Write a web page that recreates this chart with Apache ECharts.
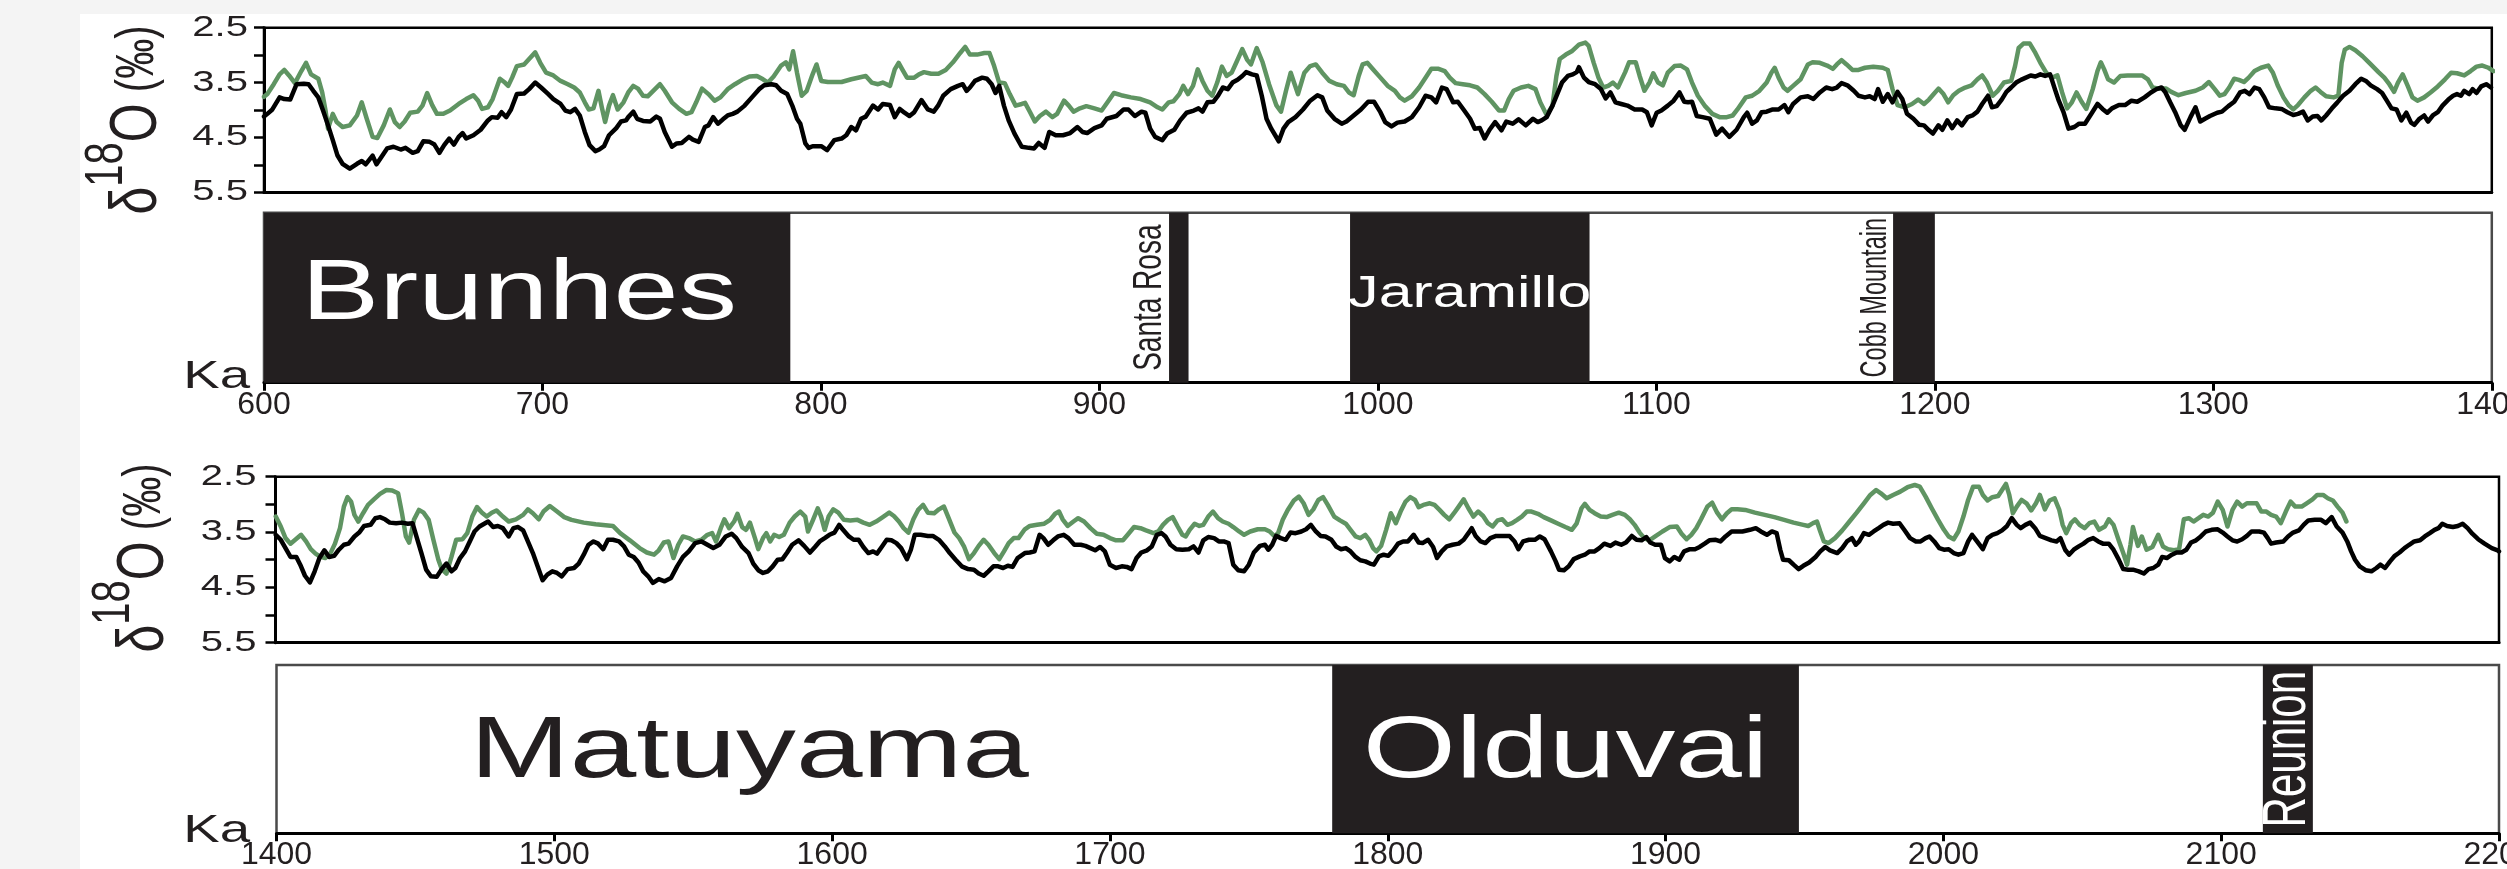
<!DOCTYPE html>
<html>
<head>
<meta charset="utf-8">
<title>δ18O records and geomagnetic polarity, 600–2200 ka</title>
<script src="https://cdn.jsdelivr.net/npm/echarts@6/dist/echarts.min.js"></script>
<style>
  html, body { margin: 0; padding: 0; background: #f4f4f4; }
  #paper { position: absolute; left: 80px; top: 14px; right: 0; bottom: 0; background: #ffffff; }
  #chart { position: absolute; left: 0; top: 0; width: 2507px; height: 869px; }
</style>
</head>
<body>
<div id="paper"></div>
<div id="chart"></div>
<script>
// ---------------------------------------------------------------
// δ18O records, [age (ka), δ18O (‰)]
// ---------------------------------------------------------------
const blackUpper = [[600.0,4.12],[601.2,4.07],[603.0,3.99],[605.6,3.77],[607.3,3.80],[609.4,3.81],[611.7,3.53],[614.3,3.52],[616.0,3.53],[617.7,3.65],[619.5,3.77],[621.2,4.01],[623.0,4.28],[624.7,4.55],[626.4,4.83],[628.2,4.98],[630.8,5.07],[633.4,4.98],[635.1,4.93],[636.5,4.99],[639.0,4.83],[640.4,4.99],[642.1,4.86],[644.2,4.70],[646.5,4.67],[649.1,4.72],[650.8,4.69],[653.4,4.78],[655.2,4.75],[657.2,4.57],[659.5,4.58],[661.2,4.63],[663.0,4.78],[664.7,4.64],[666.5,4.52],[668.2,4.63],[669.9,4.49],[671.3,4.42],[672.6,4.52],[675.2,4.46],[677.8,4.36],[680.4,4.19],[681.8,4.13],[683.9,4.14],[685.3,4.04],[687.0,4.13],[688.7,3.99],[690.8,3.71],[693.4,3.70],[695.2,3.62],[697.4,3.50],[699.5,3.59],[702.1,3.71],[703.9,3.80],[706.5,3.89],[708.2,4.01],[710.0,4.04],[711.7,3.98],[713.4,4.10],[715.2,4.40],[716.9,4.64],[719.0,4.75],[720.4,4.72],[722.1,4.66],[723.9,4.46],[726.5,4.33],[728.2,4.21],[730.0,4.19],[730.8,4.13],[732.6,4.03],[734.0,4.16],[736.1,4.20],[738.7,4.21],[740.9,4.12],[742.2,4.16],[743.9,4.40],[746.5,4.67],[748.2,4.61],[750.0,4.60],[752.6,4.49],[754.0,4.54],[756.1,4.58],[758.3,4.31],[759.6,4.28],[761.3,4.13],[763.0,4.25],[764.8,4.17],[766.5,4.10],[768.3,4.07],[770.0,4.03],[772.6,3.92],[775.2,3.77],[777.8,3.62],[779.6,3.55],[782.2,3.53],[783.9,3.55],[785.7,3.65],[787.9,3.71],[789.7,3.92],[791.4,4.16],[792.6,4.25],[794.4,4.61],[795.6,4.69],[797.0,4.66],[800.1,4.66],[802.2,4.73],[804.8,4.55],[807.4,4.52],[809.1,4.46],[810.9,4.31],[812.6,4.37],[814.4,4.16],[816.1,4.12],[818.7,3.92],[820.5,3.99],[822.2,3.89],[824.8,3.91],[826.5,4.13],[828.3,3.98],[830.0,4.05],[831.8,4.11],[833.5,4.04],[836.1,3.82],[838.4,3.99],[840.5,4.03],[842.2,3.91],[843.9,3.74],[846.6,3.62],[849.2,3.56],[850.9,3.53],[852.3,3.65],[853.5,3.59],[855.3,3.47],[857.9,3.41],[859.6,3.43],[861.3,3.53],[862.7,3.69],[864.0,3.56],[865.7,3.92],[867.4,4.19],[869.5,4.43],[872.1,4.67],[874.7,4.69],[876.5,4.70],[878.2,4.60],[880.3,4.69],[882.0,4.40],[884.3,4.46],[886.9,4.46],[889.5,4.42],[892.1,4.31],[893.9,4.40],[895.6,4.42],[898.2,4.33],[900.8,4.28],[902.6,4.16],[906.1,4.11],[908.7,3.99],[910.4,3.99],[912.7,4.11],[915.1,4.03],[916.5,4.05],[918.2,4.34],[920.0,4.49],[922.6,4.55],[924.3,4.43],[926.9,4.36],[929.0,4.19],[931.3,4.05],[933.9,4.01],[935.6,3.97],[937.0,4.03],[938.8,3.86],[940.9,3.85],[942.6,3.74],[944.3,3.59],[946.1,3.62],[947.8,3.50],[949.6,3.45],[951.3,3.38],[952.7,3.31],[954.8,3.35],[956.5,3.37],[958.3,3.74],[960.0,4.16],[961.7,4.34],[964.4,4.57],[966.1,4.34],[967.8,4.22],[970.4,4.13],[973.1,3.99],[975.7,3.83],[978.3,3.73],[980.0,3.77],[981.8,4.01],[984.4,4.16],[987.0,4.25],[988.7,4.21],[991.3,4.10],[993.9,3.99],[996.5,3.85],[998.6,3.85],[1000.9,4.04],[1002.6,4.22],[1004.9,4.30],[1007.0,4.23],[1009.6,4.21],[1012.2,4.13],[1014.8,3.95],[1017.1,3.74],[1019.2,3.77],[1020.9,3.86],[1023.0,3.59],[1024.7,3.62],[1027.0,3.86],[1028.7,3.85],[1031.0,4.01],[1033.1,4.16],[1034.8,4.34],[1036.6,4.33],[1038.3,4.52],[1040.1,4.36],[1042.1,4.22],[1044.4,4.37],[1046.1,4.21],[1048.4,4.25],[1050.5,4.17],[1053.1,4.28],[1055.7,4.16],[1057.4,4.22],[1058.8,4.19],[1060.6,4.13],[1062.7,3.92],[1064.4,3.71],[1066.1,3.50],[1068.2,3.38],[1070.0,3.35],[1071.4,3.31],[1072.2,3.22],[1074.0,3.41],[1075.7,3.49],[1078.0,3.53],[1080.1,3.62],[1081.8,3.79],[1083.5,3.68],[1085.3,3.86],[1087.4,3.89],[1089.6,3.92],[1092.2,3.99],[1094.9,3.99],[1096.6,4.04],[1098.3,4.28],[1100.1,4.05],[1101.8,4.01],[1104.1,3.92],[1106.2,3.83],[1108.3,3.68],[1110.0,3.85],[1111.4,3.86],[1112.8,3.85],[1114.5,4.11],[1116.6,4.13],[1119.2,4.16],[1121.5,4.45],[1123.6,4.34],[1126.2,4.49],[1128.8,4.36],[1131.4,4.13],[1132.6,4.05],[1134.4,4.25],[1136.1,4.19],[1137.8,4.04],[1139.6,4.03],[1141.8,3.99],[1143.9,3.99],[1146.0,3.91],[1147.4,4.04],[1149.1,3.89],[1151.8,3.77],[1154.4,3.75],[1156.4,3.80],[1158.7,3.68],[1161.0,3.59],[1163.1,3.62],[1164.8,3.59],[1166.5,3.51],[1168.6,3.55],[1170.9,3.65],[1172.6,3.74],[1174.9,3.77],[1176.6,3.75],[1178.4,3.80],[1179.6,3.62],[1181.3,3.85],[1183.1,3.71],[1184.8,3.86],[1186.6,3.67],[1188.3,3.80],[1190.0,4.07],[1192.3,4.16],[1194.4,4.27],[1196.1,4.28],[1197.9,4.37],[1199.3,4.43],[1201.3,4.28],[1202.7,4.36],[1204.5,4.19],[1206.2,4.33],[1208.0,4.19],[1209.7,4.28],[1211.8,4.13],[1213.5,4.10],[1215.3,4.03],[1217.0,3.89],[1219.1,3.74],[1220.5,3.95],[1222.2,3.93],[1224.0,3.81],[1225.7,3.67],[1227.4,3.59],[1229.2,3.50],[1230.9,3.45],[1232.7,3.41],[1234.4,3.37],[1236.1,3.39],[1237.9,3.35],[1239.6,3.38],[1241.4,3.35],[1243.1,3.62],[1244.5,3.83],[1246.2,4.04],[1248.0,4.34],[1250.1,4.31],[1251.8,4.25],[1253.9,4.25],[1256.2,4.07],[1258.4,3.89],[1260.2,3.98],[1261.9,4.05],[1263.6,3.97],[1266.1,3.91],[1268.3,3.91],[1270.6,3.83],[1272.7,3.85],[1275.3,3.77],[1277.6,3.68],[1279.6,3.62],[1281.4,3.59],[1282.8,3.68],[1284.5,3.86],[1286.3,4.04],[1288.3,4.28],[1289.7,4.36],[1291.8,4.13],[1293.6,3.95],[1295.3,4.21],[1297.0,4.16],[1298.8,4.11],[1301.4,4.05],[1303.1,4.03],[1305.4,3.93],[1307.5,3.85],[1309.6,3.68],[1311.3,3.65],[1313.0,3.71],[1314.8,3.59],[1316.5,3.62],[1318.3,3.77],[1320.0,3.95],[1322.3,3.97],[1324.5,3.98],[1326.6,4.04],[1328.7,4.09],[1330.4,4.07],[1332.2,4.03],[1333.9,4.19],[1335.7,4.12],[1337.4,4.11],[1338.8,4.19],[1340.5,4.10],[1342.6,3.97],[1344.4,3.87],[1346.6,3.74],[1348.9,3.65],[1351.0,3.53],[1353.1,3.43],[1354.8,3.47],[1356.5,3.55],[1358.8,3.62],[1360.6,3.69],[1362.3,3.83],[1364.0,3.97],[1365.8,3.99],[1367.5,4.19],[1369.3,4.05],[1371.0,4.23],[1372.2,4.27],[1374.0,4.16],[1375.7,4.10],[1377.1,4.21],[1378.8,4.10],[1380.6,4.04],[1382.3,3.92],[1384.4,3.81],[1386.1,3.74],[1387.5,3.71],[1388.9,3.74],[1390.1,3.65],[1391.9,3.71],[1393.1,3.62],[1394.5,3.69],[1396.2,3.57],[1398.0,3.53],[1399.7,3.59]];

const greenUpper = [[600.0,3.76],[601.2,3.71],[603.5,3.53],[605.6,3.35],[607.3,3.27],[609.0,3.37],[611.1,3.51],[613.4,3.29],[615.1,3.14],[616.9,3.35],[619.5,3.43],[620.9,3.68],[622.1,4.01],[623.0,4.34],[624.7,4.07],[626.1,4.22],[628.2,4.31],[630.8,4.28],[633.4,4.10],[635.1,3.86],[636.9,4.16],[639.0,4.49],[640.7,4.51],[643.0,4.28],[645.2,3.99],[647.0,4.22],[648.7,4.31],[650.5,4.21],[652.5,4.05],[655.2,4.03],[656.9,3.92],[658.6,3.69],[660.4,3.91],[662.1,4.07],[664.4,4.07],[666.8,4.01],[669.9,3.89],[672.6,3.80],[675.2,3.73],[676.9,3.83],[678.3,3.98],[680.4,3.95],[682.1,3.80],[684.7,3.43],[686.5,3.50],[687.7,3.56],[689.1,3.41],[690.8,3.20],[693.4,3.17],[695.2,3.07],[697.4,2.95],[699.2,3.14],[701.3,3.32],[703.9,3.37],[706.5,3.47],[709.1,3.53],[711.4,3.59],[713.4,3.68],[715.2,3.86],[716.6,3.99],[718.3,3.97],[720.1,3.65],[721.3,3.95],[722.5,4.22],[723.9,3.92],[725.3,3.73],[727.0,3.99],[729.1,3.86],[730.8,3.68],[732.6,3.56],[734.3,3.61],[736.1,3.74],[737.8,3.75],[740.4,3.62],[742.2,3.53],[743.9,3.65],[746.5,3.86],[749.1,3.98],[751.7,4.07],[753.5,4.04],[755.2,3.86],[757.3,3.61],[759.6,3.71],[761.8,3.83],[763.9,3.77],[766.5,3.62],[769.1,3.53],[771.7,3.45],[774.3,3.39],[777.0,3.38],[779.2,3.44],[781.0,3.50],[783.0,3.39],[785.7,3.19],[787.4,3.13],[788.6,3.26],[790.0,2.93],[791.4,3.32],[793.1,3.74],[794.9,3.65],[797.0,3.35],[798.4,3.17],[800.1,3.47],[802.5,3.49],[807.4,3.49],[810.9,3.44],[816.1,3.38],[818.2,3.50],[820.5,3.53],[822.2,3.50],[824.8,3.56],[826.5,3.26],[827.9,3.14],[829.2,3.26],[830.9,3.41],[833.5,3.41],[835.2,3.35],[837.0,3.31],[839.6,3.34],[842.2,3.34],[844.8,3.27],[847.4,3.13],[850.0,2.96],[851.8,2.85],[853.5,2.99],[856.1,2.99],[858.7,2.96],[860.5,2.96],[862.2,3.20],[864.0,3.50],[866.0,3.51],[867.8,3.71],[869.9,3.92],[872.1,3.89],[873.3,3.87],[875.1,4.04],[876.8,4.21],[878.6,4.11],[880.8,4.03],[883.1,4.13],[884.8,4.07],[887.3,3.83],[889.0,3.92],[890.7,4.03],[893.0,3.97],[895.3,3.93],[898.2,3.97],[900.8,4.01],[902.9,3.86],[905.2,3.69],[907.8,3.73],[911.3,3.77],[914.8,3.80],[918.2,3.86],[920.9,3.95],[922.6,3.99],[924.9,3.86],[926.6,3.84],[928.7,3.71],[930.1,3.56],[931.8,3.71],[933.6,3.56],[935.3,3.26],[937.0,3.47],[938.8,3.65],[940.5,3.74],[942.3,3.50],[944.0,3.21],[945.7,3.38],[947.5,3.32],[949.2,3.13],[951.3,2.89],[953.0,3.08],[954.4,3.17],[956.5,2.87],[958.6,3.13],[960.9,3.53],[963.5,3.91],[965.2,4.03],[967.0,3.65],[968.7,3.32],[970.1,3.53],[971.3,3.71],[973.6,3.32],[975.7,3.20],[977.7,3.17],[980.0,3.32],[982.6,3.47],[985.2,3.53],[987.8,3.56],[989.6,3.68],[991.3,3.73],[993.1,3.38],[994.5,3.17],[996.2,3.14],[998.3,3.26],[1000.9,3.41],[1003.5,3.56],[1006.1,3.65],[1007.9,3.77],[1009.6,3.83],[1012.2,3.75],[1014.8,3.59],[1017.4,3.39],[1019.2,3.25],[1021.8,3.25],[1024.0,3.29],[1025.8,3.41],[1027.9,3.51],[1030.5,3.53],[1033.1,3.55],[1035.7,3.59],[1038.3,3.71],[1040.9,3.85],[1043.5,4.01],[1045.3,4.01],[1047.0,3.80],[1048.7,3.65],[1051.4,3.59],[1054.0,3.56],[1056.6,3.62],[1058.3,3.86],[1060.6,4.09],[1062.7,3.92],[1064.1,3.38],[1065.3,3.07],[1067.5,2.99],[1069.6,2.93],[1072.2,2.81],[1074.5,2.77],[1075.7,2.83],[1077.5,3.14],[1079.2,3.41],[1080.9,3.59],[1082.7,3.56],[1084.4,3.50],[1086.2,3.59],[1088.8,3.31],[1090.2,3.13],[1092.6,3.13],[1094.0,3.38],[1095.7,3.65],[1097.5,3.50],[1098.9,3.33],[1100.6,3.50],[1102.3,3.55],[1104.1,3.32],[1106.5,3.20],[1108.8,3.19],[1111.0,3.26],[1112.8,3.50],[1114.9,3.74],[1117.5,3.93],[1120.1,4.07],[1122.7,4.13],[1125.3,4.13],[1127.4,4.10],[1129.1,3.99],[1132.1,3.77],[1134.4,3.74],[1137.0,3.65],[1139.6,3.50],[1141.3,3.32],[1142.5,3.23],[1143.9,3.41],[1145.7,3.59],[1147.1,3.65],[1149.1,3.56],[1151.8,3.44],[1154.4,3.17],[1156.1,3.13],[1158.7,3.14],[1161.3,3.19],[1163.4,3.25],[1164.8,3.17],[1166.5,3.09],[1168.3,3.17],[1170.4,3.27],[1172.6,3.27],[1174.9,3.23],[1177.9,3.21],[1181.3,3.23],[1183.1,3.27],[1184.8,3.62],[1186.6,3.91],[1189.2,3.95],[1191.8,3.89],[1194.0,3.81],[1196.1,3.89],[1197.9,3.81],[1199.6,3.71],[1201.3,3.61],[1203.1,3.71],[1204.8,3.86],[1206.6,3.73],[1208.6,3.65],[1210.9,3.59],[1213.2,3.55],[1215.3,3.44],[1217.0,3.37],[1218.7,3.50],[1220.8,3.74],[1222.6,3.65],[1224.8,3.50],[1227.4,3.47],[1228.8,3.20],[1230.1,2.87],[1231.8,2.79],[1234.1,2.79],[1236.1,2.96],[1237.9,3.14],[1240.0,3.32],[1242.2,3.41],[1244.0,3.37],[1245.7,3.68],[1247.5,3.97],[1249.2,3.86],[1250.9,3.68],[1252.7,3.85],[1254.4,3.98],[1256.7,3.62],[1258.4,3.29],[1259.6,3.13],[1260.8,3.26],[1262.2,3.44],[1264.3,3.50],[1266.6,3.38],[1269.2,3.37],[1274.4,3.37],[1276.5,3.44],[1278.2,3.59],[1280.5,3.61],[1283.1,3.61],[1284.9,3.67],[1287.5,3.73],[1290.1,3.69],[1293.6,3.65],[1296.2,3.59],[1298.4,3.49],[1300.5,3.62],[1302.3,3.74],[1304.0,3.71],[1305.7,3.59],[1307.5,3.43],[1309.2,3.45],[1311.0,3.49],[1312.7,3.41],[1314.8,3.29],[1317.1,3.23],[1319.7,3.19],[1321.4,3.32],[1323.1,3.55],[1325.2,3.77],[1327.0,3.91],[1328.7,3.99],[1330.4,3.91],[1332.7,3.77],[1335.0,3.65],[1336.7,3.59],[1338.5,3.67],[1340.5,3.75],[1343.2,3.77],[1344.9,3.74],[1346.1,3.14],[1347.2,2.90],[1348.9,2.85],[1351.0,2.91],[1353.6,3.02],[1356.2,3.15],[1359.3,3.31],[1361.4,3.41],[1363.2,3.53],[1364.9,3.67],[1366.3,3.50],[1368.0,3.35],[1369.8,3.56],[1371.5,3.77],[1373.3,3.83],[1375.7,3.77],[1378.0,3.68],[1380.6,3.57],[1383.2,3.44],[1385.4,3.32],[1387.5,3.33],[1390.1,3.37],[1392.4,3.29],[1394.5,3.21],[1396.6,3.19],[1398.8,3.23],[1400.6,3.29]];

const blackLower = [[1400.1,3.55],[1401.9,3.64],[1403.6,3.79],[1405.4,3.95],[1407.5,3.95],[1408.9,4.09],[1410.6,4.29],[1412.4,4.41],[1414.1,4.21],[1415.8,3.97],[1417.6,3.83],[1419.3,3.95],[1421.1,3.93],[1422.8,3.82],[1424.6,3.73],[1426.3,3.71],[1428.4,3.58],[1430.1,3.51],[1431.9,3.39],[1434.2,3.37],[1435.9,3.25],[1437.6,3.23],[1439.4,3.27],[1441.1,3.33],[1443.4,3.34],[1445.5,3.33],[1447.6,3.35],[1449.3,3.34],[1450.7,3.58],[1452.5,3.88],[1454.2,4.18],[1455.9,4.30],[1458.0,4.31],[1459.8,4.17],[1461.5,4.07],[1463.3,4.21],[1464.7,4.15],[1466.4,3.97],[1468.2,3.85],[1469.9,3.67],[1471.6,3.49],[1473.4,3.40],[1475.1,3.35],[1476.5,3.31],[1478.3,3.41],[1480.0,3.39],[1481.8,3.43],[1483.9,3.58],[1485.6,3.43],[1487.3,3.41],[1489.1,3.47],[1490.8,3.67],[1492.6,3.88],[1494.3,4.12],[1496.1,4.37],[1497.8,4.27],[1499.6,4.21],[1501.3,4.24],[1503.0,4.30],[1505.1,4.17],[1507.4,4.15],[1509.1,4.07],[1510.9,3.91],[1512.6,3.73],[1514.4,3.67],[1516.1,3.71],[1517.9,3.81],[1519.6,3.64],[1521.4,3.64],[1523.6,3.67],[1525.4,3.76],[1527.1,3.91],[1528.9,3.95],[1530.6,4.05],[1532.3,4.21],[1534.1,4.30],[1535.8,4.42],[1537.9,4.35],[1540.0,4.39],[1542.3,4.33],[1544.5,4.12],[1546.6,3.95],[1548.7,3.85],[1551.0,3.70],[1553.3,3.67],[1555.4,3.73],[1557.5,3.79],[1559.7,3.73],[1562.0,3.58],[1564.1,3.53],[1565.8,3.61],[1567.9,3.77],[1570.2,3.88],[1571.9,4.07],[1573.7,4.19],[1575.4,4.24],[1577.2,4.21],[1578.9,4.12],[1580.7,4.00],[1582.4,3.99],[1584.1,3.87],[1585.9,3.73],[1588.2,3.65],[1590.2,3.75],[1592.3,3.87],[1594.1,3.77],[1595.8,3.67],[1597.6,3.61],[1599.3,3.55],[1601.1,3.51],[1602.8,3.37],[1604.2,3.46],[1606.3,3.58],[1608.0,3.64],[1609.8,3.64],[1611.5,3.77],[1613.3,3.88],[1615.0,3.85],[1616.4,3.89],[1618.1,3.77],[1619.9,3.64],[1621.6,3.65],[1623.4,3.70],[1625.1,3.79],[1627.2,3.99],[1628.6,3.82],[1630.0,3.55],[1632.1,3.55],[1634.7,3.57],[1636.5,3.57],[1638.7,3.64],[1640.8,3.76],[1642.6,3.88],[1644.7,4.00],[1646.9,4.12],[1649.2,4.17],[1651.3,4.18],[1653.0,4.25],[1654.8,4.29],[1656.5,4.21],[1658.3,4.12],[1660.0,4.12],[1661.8,4.15],[1663.5,4.11],[1665.2,4.13],[1667.0,3.97],[1669.6,3.88],[1671.4,3.87],[1673.1,3.85],[1674.9,3.55],[1676.3,3.61],[1678.0,3.73],[1679.8,3.65],[1681.5,3.58],[1683.6,3.55],[1685.3,3.61],[1687.4,3.73],[1689.7,3.73],[1691.4,3.75],[1693.2,3.79],[1694.9,3.83],[1696.7,3.77],[1698.4,3.85],[1700.2,4.09],[1702.4,4.15],[1704.5,4.12],[1706.3,4.13],[1708.0,4.17],[1709.8,3.97],[1711.5,3.87],[1713.6,3.83],[1715.3,3.76],[1717.1,3.55],[1718.8,3.52],[1720.2,3.58],[1722.0,3.73],[1724.1,3.81],[1726.3,3.82],[1728.6,3.81],[1730.3,3.76],[1732.1,3.87],[1733.8,3.65],[1735.6,3.59],[1737.7,3.61],[1739.4,3.67],[1741.2,3.67],[1742.9,3.70],[1744.6,4.09],[1746.4,4.19],[1748.5,4.21],[1750.2,4.09],[1752.0,3.87],[1754.2,3.75],[1756.0,3.73],[1757.2,3.82],[1758.6,3.73],[1760.0,3.57],[1761.7,3.61],[1763.5,3.64],[1765.2,3.51],[1767.0,3.52],[1769.1,3.49],[1770.8,3.45],[1772.5,3.37],[1774.3,3.49],[1776.0,3.57],[1777.8,3.58],[1779.9,3.64],[1781.6,3.76],[1783.4,3.81],[1785.1,3.79],[1786.8,3.85],[1788.6,3.95],[1790.3,4.01],[1792.1,4.03],[1793.8,4.07],[1795.2,4.09],[1797.0,3.94],[1798.7,3.91],[1800.4,3.93],[1802.2,3.83],[1803.9,3.71],[1805.7,3.67],[1807.4,3.67],[1809.5,3.55],[1811.3,3.69],[1812.7,3.70],[1814.7,3.64],[1816.5,3.77],[1817.9,3.97],[1819.6,3.85],[1821.4,3.76],[1823.5,3.73],[1825.7,3.71],[1827.5,3.64],[1829.2,3.52],[1830.4,3.43],[1831.8,3.57],[1833.6,3.67],[1835.3,3.70],[1837.1,3.61],[1839.2,3.57],[1841.4,3.57],[1844.0,3.57],[1845.8,3.67],[1847.2,3.81],[1848.9,3.67],[1851.0,3.64],[1853.1,3.64],[1854.9,3.58],[1856.6,3.63],[1858.9,3.85],[1860.6,4.03],[1861.8,4.18],[1863.6,4.19],[1865.3,4.12],[1867.1,3.99],[1869.3,3.94],[1871.1,3.91],[1872.8,3.85],[1874.6,3.85],[1876.3,3.79],[1878.1,3.71],[1880.3,3.75],[1882.1,3.69],[1884.2,3.73],[1885.9,3.69],[1888.0,3.57],[1889.7,3.64],[1891.5,3.65],[1893.2,3.59],[1894.6,3.69],[1896.4,3.73],[1898.5,3.73],[1899.9,3.97],[1901.6,4.03],[1903.3,3.95],[1905.1,4.00],[1906.8,3.85],[1908.9,3.81],[1910.7,3.81],[1912.4,3.77],[1914.2,3.71],[1915.9,3.65],[1918.2,3.64],[1919.9,3.67],[1921.7,3.58],[1923.9,3.49],[1925.7,3.49],[1927.8,3.49],[1930.5,3.46],[1932.6,3.43],[1934.4,3.49],[1936.6,3.55],[1938.4,3.49],[1940.1,3.52],[1941.4,3.82],[1942.4,4.00],[1944.5,4.01],[1946.2,4.09],[1948.0,4.17],[1949.7,4.11],[1951.8,4.05],[1954.1,3.95],[1955.8,3.85],[1957.6,3.77],[1959.3,3.83],[1961.9,3.88],[1963.7,3.79],[1965.4,3.67],[1967.2,3.61],[1968.6,3.73],[1969.8,3.67],[1971.5,3.52],[1973.3,3.55],[1975.0,3.49],[1976.8,3.43],[1978.5,3.37],[1980.2,3.33],[1982.0,3.35],[1984.3,3.34],[1986.0,3.46],[1988.1,3.61],[1990.2,3.67],[1991.9,3.67],[1993.7,3.61],[1995.1,3.58],[1996.8,3.67],[1998.6,3.79],[2000.3,3.82],[2002.0,3.81],[2003.8,3.88],[2005.5,3.91],[2007.3,3.88],[2009.0,3.67],[2010.4,3.55],[2012.2,3.67],[2014.3,3.81],[2016.0,3.61],[2017.7,3.55],[2019.5,3.52],[2021.2,3.47],[2023.0,3.39],[2024.7,3.25],[2026.5,3.37],[2027.9,3.43],[2029.6,3.37],[2031.3,3.33],[2033.1,3.43],[2034.8,3.57],[2036.9,3.61],[2039.0,3.65],[2040.8,3.67],[2042.2,3.61],[2043.9,3.82],[2045.3,3.91],[2047.0,3.82],[2048.8,3.76],[2050.5,3.71],[2052.3,3.64],[2054.0,3.61],[2055.8,3.67],[2057.5,3.71],[2059.6,3.71],[2061.3,3.82],[2063.1,3.99],[2064.8,4.17],[2066.6,4.18],[2068.3,4.18],[2070.4,4.21],[2072.2,4.25],[2073.9,4.17],[2075.6,4.15],[2077.4,4.09],[2078.8,3.95],[2080.5,3.97],[2082.3,3.91],[2084.0,3.87],[2085.8,3.87],[2087.5,3.82],[2089.2,3.69],[2091.0,3.65],[2092.7,3.58],[2094.5,3.49],[2096.6,3.46],[2098.8,3.45],[2100.6,3.51],[2102.3,3.58],[2104.1,3.65],[2105.8,3.67],[2107.6,3.63],[2109.3,3.57],[2111.0,3.49],[2113.7,3.49],[2115.4,3.51],[2116.8,3.61],[2118.0,3.71],[2119.8,3.69],[2122.4,3.67],[2124.1,3.58],[2125.9,3.51],[2128.0,3.47],[2129.7,3.37],[2131.4,3.29],[2133.7,3.28],[2136.0,3.28],[2137.7,3.34],[2139.8,3.23],[2141.6,3.40],[2143.7,3.51],[2145.4,3.67],[2146.8,3.85],[2148.2,4.00],[2149.9,4.12],[2152.0,4.19],[2154.1,4.21],[2155.9,4.15],[2157.3,4.09],[2159.0,4.15],[2160.8,4.03],[2162.5,3.93],[2164.2,3.87],[2166.0,3.79],[2167.7,3.73],[2169.5,3.67],[2171.6,3.65],[2173.3,3.58],[2175.1,3.52],[2176.8,3.46],[2178.2,3.43],[2179.6,3.35],[2181.3,3.39],[2183.4,3.41],[2185.2,3.39],[2186.9,3.35],[2188.7,3.43],[2190.4,3.53],[2192.5,3.63],[2194.8,3.71],[2197.4,3.79],[2199.5,3.83],[2200.0,3.85]];

const greenLower = [[1400.1,3.22],[1401.9,3.40],[1403.6,3.61],[1405.4,3.71],[1407.1,3.64],[1409.2,3.55],[1411.0,3.67],[1412.7,3.81],[1414.4,3.89],[1416.2,3.95],[1417.9,3.97],[1419.7,3.89],[1421.4,3.71],[1423.2,3.43],[1424.6,3.04],[1425.9,2.87],[1427.2,2.95],[1428.4,3.19],[1429.8,3.31],[1431.5,3.16],[1433.3,3.01],[1435.4,2.91],[1437.6,2.81],[1439.9,2.74],[1442.0,2.75],[1444.1,2.80],[1445.5,3.16],[1446.9,3.58],[1448.1,3.69],[1449.8,3.28],[1451.6,3.10],[1453.3,3.15],[1455.1,3.28],[1456.8,3.64],[1458.6,4.00],[1459.8,4.17],[1461.5,4.25],[1463.3,3.95],[1465.0,3.64],[1467.3,3.63],[1469.0,3.52],[1470.8,3.22],[1472.5,3.05],[1474.3,3.15],[1476.0,3.22],[1477.8,3.15],[1479.5,3.11],[1481.8,3.22],[1483.9,3.31],[1486.5,3.27],[1489.1,3.19],[1490.8,3.09],[1492.6,3.16],[1494.7,3.27],[1496.4,3.13],[1498.7,3.03],[1501.3,3.13],[1503.9,3.23],[1506.5,3.28],[1510.9,3.33],[1515.2,3.36],[1521.4,3.39],[1524.0,3.52],[1527.5,3.65],[1531.0,3.79],[1533.6,3.87],[1536.2,3.91],[1537.9,3.83],[1539.7,3.69],[1541.4,3.67],[1543.2,3.97],[1544.9,3.73],[1546.6,3.58],[1548.7,3.61],[1551.0,3.67],[1553.3,3.64],[1555.4,3.55],[1557.1,3.52],[1558.5,3.67],[1560.2,3.43],[1561.5,3.27],[1563.2,3.43],[1565.0,3.31],[1566.2,3.17],[1567.9,3.41],[1569.3,3.46],[1570.7,3.33],[1572.5,3.61],[1573.7,3.81],[1575.4,3.61],[1576.6,3.52],[1578.0,3.67],[1579.4,3.55],[1581.2,3.59],[1582.9,3.55],[1585.0,3.33],[1586.8,3.22],[1588.8,3.13],[1590.6,3.22],[1591.6,3.49],[1593.4,3.28],[1595.1,3.07],[1596.3,3.22],[1597.6,3.46],[1599.0,3.22],[1600.7,3.09],[1602.5,3.15],[1604.5,3.28],[1606.8,3.29],[1609.4,3.28],[1611.5,3.33],[1613.8,3.37],[1616.1,3.31],[1618.5,3.23],[1620.8,3.15],[1622.5,3.21],[1624.3,3.31],[1626.0,3.43],[1627.7,3.51],[1629.5,3.27],[1631.2,3.10],[1633.0,3.01],[1634.7,3.15],[1637.0,3.16],[1638.7,3.09],[1640.5,3.04],[1642.2,3.25],[1644.3,3.51],[1646.0,3.61],[1647.8,3.77],[1649.5,3.99],[1651.3,3.88],[1653.0,3.75],[1654.8,3.64],[1656.5,3.73],[1658.6,3.88],[1660.4,3.99],[1662.1,3.85],[1663.8,3.70],[1665.6,3.61],[1667.3,3.61],[1669.6,3.45],[1671.4,3.39],[1674.0,3.37],[1676.6,3.35],[1678.7,3.28],[1680.5,3.17],[1681.9,3.13],[1683.2,3.27],[1685.0,3.39],[1687.1,3.31],[1688.8,3.25],[1690.9,3.31],[1693.2,3.43],[1695.5,3.53],[1697.9,3.55],[1700.2,3.61],[1702.4,3.65],[1704.9,3.65],[1706.6,3.55],[1708.9,3.41],[1711.2,3.43],[1713.2,3.47],[1715.9,3.52],[1717.6,3.49],[1719.3,3.37],[1721.1,3.28],[1722.8,3.23],[1724.6,3.40],[1726.3,3.55],[1727.5,3.58],[1728.9,3.46],[1730.7,3.35],[1732.4,3.39],[1733.8,3.37],[1735.6,3.22],[1737.3,3.13],[1739.1,3.25],[1740.8,3.31],[1742.9,3.35],[1744.6,3.41],[1746.7,3.49],[1748.5,3.55],[1750.7,3.49],[1753.4,3.45],[1756.0,3.45],[1757.7,3.49],[1759.5,3.58],[1760.7,3.52],[1762.4,3.28],[1764.2,3.10],[1766.4,2.93],[1768.2,2.86],[1769.9,2.98],[1771.7,3.19],[1773.4,3.09],[1775.2,2.92],[1776.9,2.87],[1778.6,3.01],[1780.9,3.22],[1783.0,3.29],[1785.1,3.35],[1786.8,3.46],[1788.6,3.58],[1790.3,3.61],[1792.1,3.55],[1793.5,3.64],[1794.9,3.79],[1796.1,3.85],[1797.8,3.75],[1799.6,3.46],[1801.3,3.16],[1803.1,3.34],[1804.8,3.13],[1806.6,2.95],[1808.3,2.87],[1810.0,2.92],[1811.3,3.05],[1813.0,3.01],[1815.3,2.98],[1817.0,3.01],[1818.8,3.10],[1820.5,3.19],[1822.3,3.27],[1824.0,3.16],[1825.7,3.04],[1827.5,2.91],[1829.2,3.07],[1831.0,3.22],[1832.7,3.13],[1834.5,3.21],[1836.2,3.34],[1837.9,3.40],[1839.7,3.29],[1841.4,3.27],[1843.2,3.37],[1844.9,3.34],[1846.7,3.28],[1848.4,3.22],[1850.2,3.13],[1851.9,3.13],[1854.2,3.17],[1856.3,3.23],[1858.9,3.29],[1861.5,3.35],[1864.1,3.41],[1866.4,3.46],[1868.1,3.35],[1869.9,3.07],[1871.1,2.99],[1872.8,3.10],[1874.6,3.16],[1876.8,3.22],[1878.9,3.23],[1881.0,3.19],[1883.3,3.15],[1885.5,3.19],[1887.3,3.27],[1889.0,3.37],[1890.8,3.51],[1892.5,3.61],[1894.3,3.65],[1896.4,3.58],[1899.0,3.49],[1901.6,3.41],[1904.2,3.40],[1905.9,3.53],[1907.7,3.63],[1909.4,3.55],[1911.2,3.43],[1912.9,3.27],[1915.2,3.04],[1916.9,2.97],[1918.7,3.15],[1920.4,3.27],[1922.2,3.16],[1923.9,3.09],[1926.0,3.09],[1928.8,3.10],[1932.3,3.15],[1935.8,3.19],[1939.3,3.23],[1942.8,3.28],[1946.2,3.33],[1949.7,3.37],[1951.5,3.39],[1953.2,3.34],[1954.6,3.31],[1955.8,3.49],[1957.1,3.67],[1958.8,3.70],[1961.1,3.61],[1963.7,3.47],[1966.3,3.31],[1968.9,3.15],[1971.5,2.98],[1973.8,2.83],[1975.9,2.74],[1977.6,2.80],[1979.7,2.89],[1982.0,2.83],[1984.6,2.77],[1987.2,2.69],[1989.8,2.65],[1991.6,2.68],[1993.7,2.86],[1995.9,3.07],[1998.2,3.28],[2000.3,3.46],[2002.0,3.58],[2003.8,3.63],[2005.5,3.49],[2007.3,3.22],[2009.0,2.92],[2010.8,2.68],[2012.9,2.68],[2014.3,2.83],[2016.0,2.93],[2017.7,2.87],[2019.8,2.85],[2021.2,2.74],[2022.6,2.63],[2023.8,2.83],[2025.1,3.16],[2026.5,3.04],[2028.2,2.92],[2030.0,2.98],[2031.7,3.11],[2033.4,2.98],[2034.8,2.83],[2036.6,3.09],[2038.3,2.93],[2040.1,2.89],[2041.8,3.10],[2043.0,3.37],[2044.3,3.52],[2046.0,3.34],[2047.4,3.27],[2049.1,3.37],[2050.9,3.43],[2052.6,3.34],[2054.4,3.31],[2056.1,3.46],[2058.2,3.40],[2059.6,3.27],[2061.3,3.37],[2063.1,3.64],[2064.8,3.88],[2066.2,4.09],[2067.4,3.73],[2068.3,3.41],[2070.1,3.75],[2071.5,3.58],[2073.2,3.82],[2075.3,3.77],[2077.4,3.55],[2079.1,3.76],[2080.9,3.81],[2083.1,3.83],[2084.9,3.81],[2086.6,3.27],[2088.4,3.25],[2090.1,3.31],[2091.9,3.25],[2093.6,3.19],[2095.4,3.22],[2097.1,3.15],[2098.8,2.95],[2100.6,3.10],[2102.3,3.40],[2104.1,3.10],[2105.8,2.95],[2107.6,3.04],[2109.3,2.98],[2111.6,2.98],[2112.8,2.98],[2114.5,3.13],[2116.3,3.13],[2118.0,3.19],[2119.8,3.22],[2121.5,3.34],[2123.3,3.13],[2125.0,2.95],[2126.7,3.04],[2129.0,3.04],[2130.8,2.98],[2132.9,2.91],[2134.6,2.83],[2136.7,2.83],[2138.4,2.89],[2140.2,2.93],[2141.9,3.04],[2143.7,3.15],[2145.1,3.31]];

// ---------------------------------------------------------------
// Geomagnetic polarity intervals (ka)
// ---------------------------------------------------------------
const upperChronNames  = ['Brunhes', 'Santa Rosa', 'Jaramillo', 'Cobb Mountain'];
const upperChronStart  = [600, 925, 990, 1185];
const upperChronEnd    = [789, 932, 1076, 1200];
const upperChronNormal = [true, true, true, true];

const lowerChronNames  = ['Matuyama', 'Olduvai', 'Reunion'];
const lowerChronStart  = [1400, 1780, 2115];
const lowerChronEnd    = [1780, 1948, 2133];
const lowerChronNormal = [false, true, true];

// Axis ranges and tick values
const upperAgeRange = [600, 1400];
const lowerAgeRange = [1400, 2200];
const ageStep = 100;
const d18oRange = [2.5, 5.5];
const d18oStep = 0.5;
const d18oLabelled = [2.5, 3.5, 4.5, 5.5];

// ---------------------------------------------------------------
const INK = '#231f20';
const GREEN = '#5f9462';
const FONT = '"Liberation Sans", Arial, Helvetica, sans-serif';

// How each chron name is lettered: inside the block, beside it, or upright inside
const chronLabelStyle = {
  'Brunhes':       { mode: 'inside', size: 86, stretch: 1.36, fill: '#ffffff', dx: -8, dy: -2 },
  'Santa Rosa':    { mode: 'beside', size: 28, stretch: 1.45, fill: INK },
  'Jaramillo':     { mode: 'inside', size: 44, stretch: 1.38, fill: '#ffffff', dx: 0, dy: -3 },
  'Cobb Mountain': { mode: 'beside', size: 23.5, stretch: 1.55, fill: INK },
  'Matuyama':      { mode: 'inside', size: 88, stretch: 1.36, fill: INK, dx: -55, dy: 4 },
  'Olduvai':       { mode: 'inside', size: 88, stretch: 1.36, fill: '#ffffff', dx: 0, dy: 4 },
  'Reunion':       { mode: 'upright', size: 42, stretch: 1.45, fill: '#ffffff' }
};

const chart = echarts.init(document.getElementById('chart'), null, { renderer: 'canvas', width: 2507, height: 869 });

function chronSeries(xAxisIndex, yAxisIndex, names, starts, ends, normal) {
  return {
    type: 'custom',
    xAxisIndex, yAxisIndex,
    silent: true,
    animation: false,
    clip: false,
    z: 3,
    encode: { x: [0, 1] },
    data: names.map((n, i) => [starts[i], ends[i], i]),
    renderItem: (params, api) => {
      const i = api.value(2);
      const name = names[i];
      const a = api.coord([api.value(0), 1]);
      const b = api.coord([api.value(1), 0]);
      const s = chronLabelStyle[name];
      const children = [];
      if (normal[i]) {
        children.push({ type: 'rect', shape: { x: a[0], y: a[1], width: b[0] - a[0], height: b[1] - a[1] }, style: { fill: INK } });
      }
      const cx = (a[0] + b[0]) / 2;
      const cy = (a[1] + b[1]) / 2;
      const textStyle = { text: name, fontSize: s.size, fontFamily: FONT, fill: s.fill, align: 'center' };
      if (s.mode === 'inside') {
        children.push({ type: 'text', x: cx + (s.dx || 0), y: cy + (s.dy || 0), scaleX: s.stretch,
          style: Object.assign({ verticalAlign: 'middle' }, textStyle) });
      } else if (s.mode === 'beside') {
        children.push({ type: 'text', x: a[0] + 1, y: cy, rotation: Math.PI / 2, scaleY: s.stretch,
          style: Object.assign({ verticalAlign: 'bottom' }, textStyle) });
      } else {
        children.push({ type: 'text', x: cx, y: cy, rotation: Math.PI / 2, scaleY: s.stretch,
          style: Object.assign({ verticalAlign: 'middle' }, textStyle) });
      }
      return { type: 'group', children };
    }
  };
}

function lineSeries(xAxisIndex, yAxisIndex, data, color) {
  return {
    type: 'line', xAxisIndex, yAxisIndex, data,
    symbol: 'none', showSymbol: false, animation: false, silent: true, clip: true, z: 4,
    lineStyle: { color, width: 4.5, join: 'round', cap: 'round' }
  };
}

function ageAxis(gridIndex, range, labelled) {
  return {
    type: 'value', gridIndex, min: range[0], max: range[1], interval: ageStep,
    position: 'bottom',
    axisLine: { show: true, onZero: false, lineStyle: { color: '#000', width: 3 } },
    axisTick: { show: labelled, length: 8, lineStyle: { color: '#000', width: 3 } },
    axisLabel: { show: labelled, fontSize: 32, fontFamily: FONT, color: INK, margin: 6,
      showMinLabel: true, showMaxLabel: true, formatter: v => String(v) },
    splitLine: { show: false }
  };
}

// The δ18O value labels are lettered separately (see d18oTickLabels), so the axis only draws line and ticks
function d18oAxis(gridIndex) {
  return {
    type: 'value', gridIndex, inverse: true, min: d18oRange[0], max: d18oRange[1], interval: d18oStep,
    axisLine: { show: true, onZero: false, lineStyle: { color: '#000', width: 3 } },
    axisTick: { show: true, length: 10, lineStyle: { color: '#000', width: 2.5 } },
    axisLabel: { show: false },
    splitLine: { show: false }
  };
}

function bandAxis(gridIndex) {
  return { type: 'value', gridIndex, min: 0, max: 1, show: false };
}

function d18oTitle(x, y) {
  return {
    type: 'text', x, y, rotation: Math.PI / 2, scaleY: 1.35, silent: true,
    style: {
      text: '{m|δ}{s|18}{m|O}{p| (‰)}',
      align: 'center', verticalAlign: 'bottom',
      rich: {
        m: { fontSize: 50, fontFamily: FONT, fill: INK, lineHeight: 85 },
        s: { fontSize: 40, fontFamily: FONT, fill: INK, verticalAlign: 'top' },
        p: { fontSize: 40, fontFamily: FONT, fill: INK, lineHeight: 85 }
      }
    }
  };
}

function kaLabel(y) {
  return {
    type: 'text', x: 250, y, scaleX: 1.4, silent: true,
    style: { text: 'Ka', fontSize: 39, fontFamily: FONT, fill: INK, align: 'right', verticalAlign: 'middle' }
  };
}

const plotGrid = { show: true, backgroundColor: '#ffffff', borderColor: '#000', borderWidth: 2.5, outerBoundsMode: 'none', containLabel: false };
const bandGrid = { show: true, backgroundColor: '#ffffff', borderColor: '#4a4a4a', borderWidth: 2.5, outerBoundsMode: 'none', containLabel: false };

chart.setOption({
  animation: false,
  backgroundColor: 'transparent',
  grid: [
    Object.assign({ left: 264, top: 27.7, width: 2227.8, height: 164.6 }, plotGrid),
    Object.assign({ left: 264, top: 212.7, width: 2227.8, height: 170 }, bandGrid),
    Object.assign({ left: 275.5, top: 476.7, width: 2223.5, height: 166 }, plotGrid),
    Object.assign({ left: 276.5, top: 665, width: 2222.5, height: 168.3 }, bandGrid)
  ],
  xAxis: [
    ageAxis(0, upperAgeRange, false),
    ageAxis(1, upperAgeRange, true),
    ageAxis(2, lowerAgeRange, false),
    ageAxis(3, lowerAgeRange, true)
  ],
  yAxis: [
    d18oAxis(0),
    bandAxis(1),
    d18oAxis(2),
    bandAxis(3)
  ],
  series: [
    lineSeries(0, 0, greenUpper, GREEN),
    lineSeries(0, 0, blackUpper, '#000000'),
    chronSeries(1, 1, upperChronNames, upperChronStart, upperChronEnd, upperChronNormal),
    lineSeries(2, 2, greenLower, GREEN),
    lineSeries(2, 2, blackLower, '#000000'),
    chronSeries(3, 3, lowerChronNames, lowerChronStart, lowerChronEnd, lowerChronNormal)
  ]
});

// δ18O value labels placed at the axis' own tick positions, lettered in the wide face used throughout
function d18oTickLabels(axisIndex, ageAtAxis, gap) {
  return d18oLabelled.map(v => {
    const p = chart.convertToPixel({ xAxisIndex: axisIndex, yAxisIndex: axisIndex }, [ageAtAxis, v]);
    return {
      type: 'text', x: p[0] - gap, y: p[1], scaleX: 1.38, silent: true,
      style: { text: v.toFixed(1), fontSize: 29, fontFamily: FONT, fill: INK, align: 'right', verticalAlign: 'middle' }
    };
  });
}

chart.setOption({
  graphic: [
    d18oTitle(195, 120),
    d18oTitle(202, 558),
    kaLabel(377),
    kaLabel(831)
  ].concat(d18oTickLabels(0, upperAgeRange[0], 16), d18oTickLabels(2, lowerAgeRange[0], 19))
});
</script>
</body>
</html>
